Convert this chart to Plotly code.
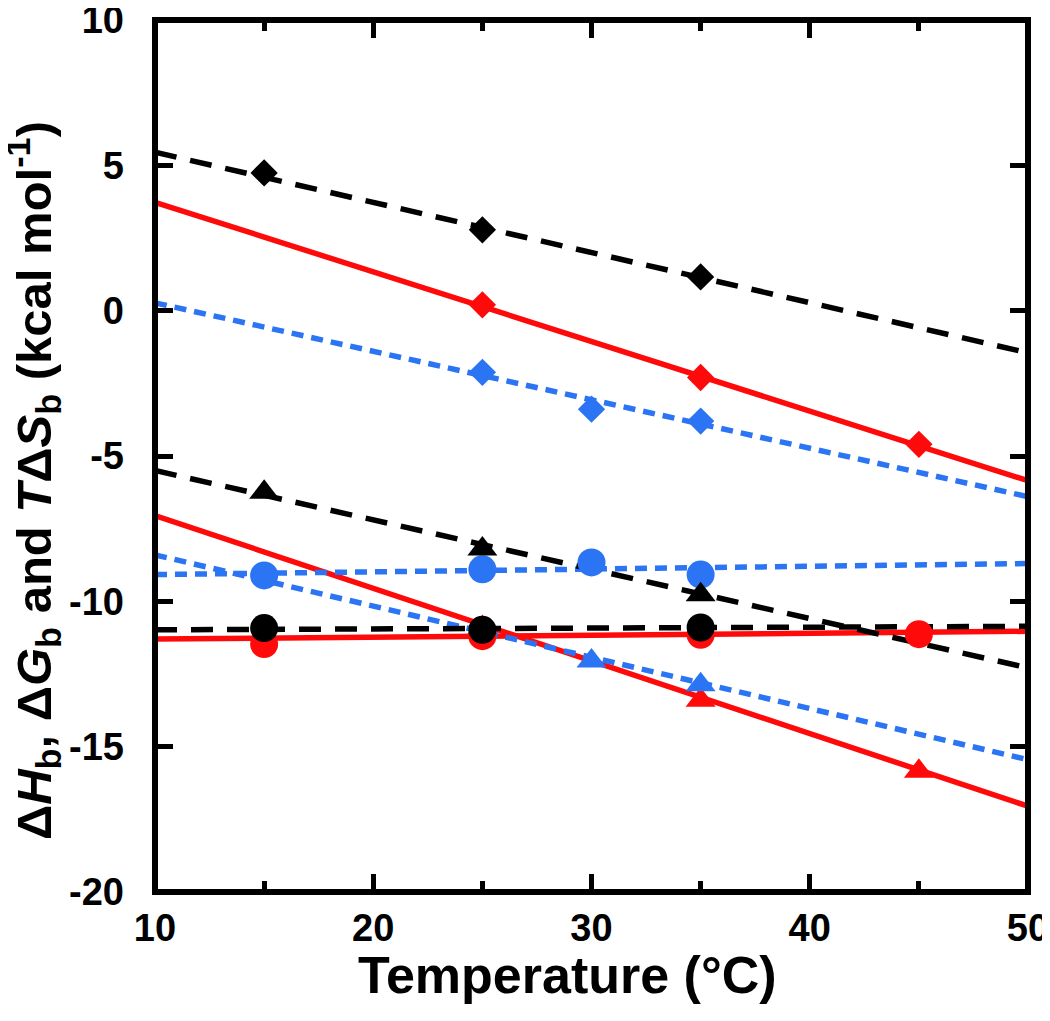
import plotly.graph_objects as go

# ---- data ----
# enthalpy (red, solid)
h_dia_x = [25, 35, 45];        h_dia_y = [0.2, -2.3, -4.6]
h_tri_x = [25, 35, 45];        h_tri_y = [-10.9, -13.4, -15.85]
h_cir_x = [15, 25, 35, 45];    h_cir_y = [-11.47, -11.2, -11.15, -11.13]
# free energy (black, dashed)
g_dia_x = [15, 25, 35];        g_dia_y = [4.74, 2.78, 1.16]
g_tri_x = [15, 25, 35];        g_tri_y = [-6.25, -8.2, -9.77]
g_cir_x = [15, 25, 35];        g_cir_y = [-10.92, -10.98, -10.9]
# entropy term (blue, short dash)
s_dia_x = [25, 30, 35];        s_dia_y = [-2.12, -3.39, -3.8]
s_tri_x = [30, 35];            s_tri_y = [-12.05, -12.87]
s_cir_x = [15, 25, 30, 35];    s_cir_y = [-9.11, -8.9, -8.66, -9.08]

# fitted lines (end points)
fit_x = [10, 50]
h_dia_fit = [3.73, -5.85]
h_tri_fit = [-7.05, -17.05]
h_cir_fit = [-11.3, -11.03]
g_dia_fit = [5.45, -1.45]
g_tri_fit = [-5.5, -12.29]
g_cir_fit = [-10.98, -10.86]
s_dia_fit = [0.27, -6.4]
s_tri_fit = [-8.4, -15.45]
s_cir_fit = [-9.08, -8.7]

x_ticks = [10, 20, 30, 40, 50]
y_ticks = [-20, -15, -10, -5, 0, 5, 10]

RED = "#ff0a0a"
BLACK = "#000000"
BLUE = "#2b74f4"

fig = go.Figure()

def add_line(y, color, dash):
    fig.add_trace(go.Scatter(x=fit_x, y=y, mode="lines",
                             line=dict(color=color, width=5.5, dash=dash),
                             showlegend=False, hoverinfo="skip"))

def add_marks(x, y, color, symbol, size):
    fig.add_trace(go.Scatter(x=x, y=y, mode="markers",
                             marker=dict(color=color, symbol=symbol, size=size,
                                         line=dict(width=0)),
                             showlegend=False, cliponaxis=False))

RED_DASH = "solid"
BLK_DASH = "22px,14px"
BLU_DASH = "12px,8px"

for y in (h_dia_fit, h_tri_fit, h_cir_fit):
    add_line(y, RED, RED_DASH)
for y in (s_dia_fit, s_tri_fit, s_cir_fit):
    add_line(y, BLUE, BLU_DASH)
for y in (g_dia_fit, g_tri_fit, g_cir_fit):
    add_line(y, BLACK, BLK_DASH)

add_marks(h_dia_x, h_dia_y, RED, "diamond", 21)
add_marks(h_tri_x, h_tri_y, RED, "triangle-up", 26)
add_marks(h_cir_x, h_cir_y, RED, "circle", 28)
add_marks(s_dia_x, s_dia_y, BLUE, "diamond", 21)
add_marks(s_tri_x, s_tri_y, BLUE, "triangle-up", 26)
add_marks(s_cir_x, s_cir_y, BLUE, "circle", 28)
add_marks(g_dia_x, g_dia_y, BLACK, "diamond", 21)
add_marks(g_tri_x, g_tri_y, BLACK, "triangle-up", 26)
add_marks(g_cir_x, g_cir_y, BLACK, "circle", 28)

tickfont = dict(family="Liberation Sans, Arial, sans-serif", size=38, color="black", weight="bold")

# the page body has an 8px margin, so the figure is made 8px smaller
fig.update_layout(
    width=1042, height=1013,
    margin=dict(l=147, r=22, t=12, b=129),
    plot_bgcolor="white", paper_bgcolor="white",
    xaxis=dict(range=[10, 50], tickvals=x_ticks, ticktext=[str(v) for v in x_ticks],
               showgrid=False, zeroline=False, showline=False, automargin=False,
               ticks="inside", ticklen=18, tickwidth=5, tickcolor="black",
               mirror="ticks", tickfont=tickfont, ticklabelstandoff=10,
               ticklabeloverflow="allow",
               minor=dict(dtick=5, tick0=0, ticks="inside", ticklen=11, tickwidth=5,
                          tickcolor="black", showgrid=False)),
    yaxis=dict(range=[-20, 10], tickvals=y_ticks, ticktext=[str(v) for v in y_ticks],
               showgrid=False, zeroline=False, showline=False, automargin=False,
               ticks="inside", ticklen=18, tickwidth=5, tickcolor="black",
               mirror="ticks", tickfont=tickfont, ticklabelstandoff=30,
               ticklabeloverflow="allow"),
    shapes=[dict(type="rect", xref="paper", yref="paper", x0=0, x1=1, y0=0, y1=1,
                 line=dict(color="black", width=6), layer="above")],
    annotations=[
        dict(text="<b>Temperature (°C)</b>", xref="paper", yref="paper",
             x=0.473, y=-0.095, xanchor="center", yanchor="middle", showarrow=False,
             font=dict(family="Liberation Sans, Arial, sans-serif", size=52, color="black")),
        dict(text="<b>Δ<i>H</i><sub>b</sub>, Δ<i>G</i><sub>b</sub> and <i>T</i>Δ<i>S</i><sub>b</sub> (kcal mol<sup>-1</sup>)</b>",
             xref="paper", yref="paper", x=-0.139, y=0.472, xanchor="center", yanchor="middle",
             textangle=-90, showarrow=False,
             font=dict(family="Liberation Sans, Arial, sans-serif", size=49, color="black")),
    ],
)

fig.write_html("out.html")
